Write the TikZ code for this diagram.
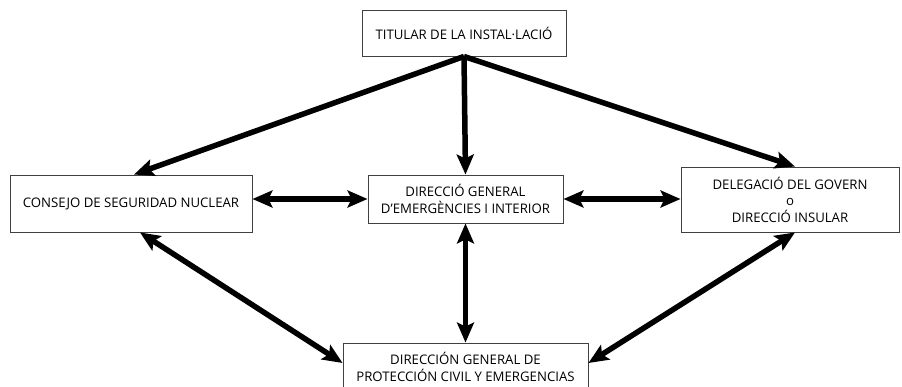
\documentclass[tikz,border=0pt]{standalone}
\usepackage{fontspec}
\setmainfont{Open Sans}
\usetikzlibrary{arrows.meta}
\tikzset{
  organ/.style={draw=black!75,line width=0.9bp,rectangle,inner sep=0pt,align=center,
    font=\fontsize{13.2bp}{16.5bp}\selectfont},
  link/.style={line width=5.5bp,-{Stealth[length=20bp,width=17bp,inset=4bp]}},
  duallink/.style={line width=5.5bp,{Stealth[length=20bp,width=17bp,inset=4bp]}-{Stealth[length=20bp,width=17bp,inset=4bp]}}
}
\begin{document}
\begin{tikzpicture}
  \clip (0bp,0bp) rectangle (902bp,387bp);
  \node (Titular) at (464bp,354bp) [organ,minimum width=204bp,minimum height=46bp] {TITULAR DE LA INSTAL·LACIÓ};
  \node (CSN) at (131bp,183.5bp) [organ,minimum width=242bp,minimum height=57bp] {CONSEJO DE SEGURIDAD NUCLEAR};
  \node (DGEI) at (465.5bp,188bp) [organ,minimum width=195bp,minimum height=48bp] {DIRECCIÓ GENERAL\\D'EMERGÈNCIES I INTERIOR};
  \node (Deleg) at (790bp,187.5bp) [organ,minimum width=218bp,minimum height=65bp] {DELEGACIÓ DEL GOVERN\\o\\DIRECCIÓ INSULAR};
  \node (DGPC) at (465.5bp,20bp) [organ,minimum width=245bp,minimum height=48bp] {DIRECCIÓN GENERAL DE\\PROTECCIÓN CIVIL Y EMERGENCIAS};
  \draw [link] (Titular.south) -- ([xshift=3bp]CSN.north);
  \draw [link] (Titular.south) -- (DGEI.north);
  \draw [link] (Titular.south) -- ([xshift=5bp]Deleg.north);
  \draw [duallink] (CSN.east |- DGEI.west) -- (DGEI.west);
  \draw [duallink] (DGEI.east) -- (DGEI.east -| Deleg.west);
  \draw [duallink] (DGEI.south) -- (DGEI.south |- DGPC.north);
  \draw [duallink] ([xshift=9bp]CSN.south) -- ([yshift=4bp]DGPC.west);
  \draw [duallink] ([xshift=5bp]Deleg.south) -- ([yshift=4bp]DGPC.east);
\end{tikzpicture}
\end{document}
